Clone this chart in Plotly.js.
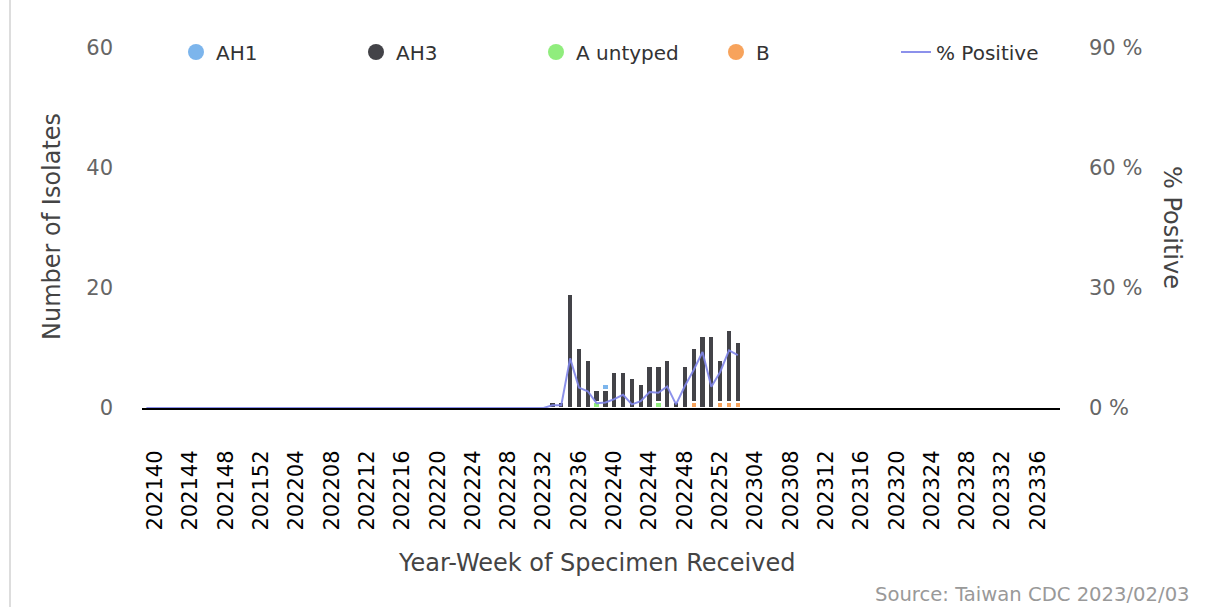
<!DOCTYPE html>
<html>
<head>
<meta charset="utf-8">
<script src="https://cdn.plot.ly/plotly-3.0.1.min.js"></script>
<style>html,body{margin:0;padding:0;background:#fff;}#chart{width:1214px;height:607px;}</style>
</head>
<body>
<div id="chart"></div>
<script>
// Categories: year-week of specimen received
var weeks = [
  "202139","202140","202141","202142","202143","202144","202145","202146","202147","202148","202149","202150","202151","202152",
  "202201","202202","202203","202204","202205","202206","202207","202208","202209","202210","202211","202212","202213",
  "202214","202215","202216","202217","202218","202219","202220","202221","202222","202223","202224","202225","202226",
  "202227","202228","202229","202230","202231","202232","202233","202234","202235","202236","202237","202238","202239",
  "202240","202241","202242","202243","202244","202245","202246","202247","202248","202249","202250","202251","202252",
  "202301","202302","202303","202304","202305","202306","202307","202308","202309","202310","202311","202312","202313",
  "202314","202315","202316","202317","202318","202319","202320","202321","202322","202323","202324","202325","202326",
  "202327","202328","202329","202330","202331","202332","202333","202334","202335","202336","202337","202338"
];
var tickLabels = ["202140","202144","202148","202152","202204","202208","202212","202216","202220","202224","202228",
  "202232","202236","202240","202244","202248","202252","202304","202308","202312","202316","202320","202324","202328",
  "202332","202336"];
var leftTicks = [0, 20, 40, 60];
var rightTicks = [0, 30, 60, 90];
var rightTickText = ["0 %", "30 %", "60 %", "90 %"];

// Weeks with isolates
var dataWeeks = ["202233","202234","202235","202236","202237","202238","202239","202240","202241","202242","202243",
  "202244","202245","202246","202247","202248","202249","202250","202251","202252","202301","202302"];
var AH1      = [null,null,null,null,null,null,1,null,null,null,null,null,null,null,null,null,null,null,null,null,null,null];
var AH3      = [1,1,19,10,8,2,3,6,6,5,4,7,6,8,1,7,9,12,12,7,12,10];
var Auntyped = [null,null,null,null,null,1,null,null,null,null,null,null,1,null,null,null,null,null,null,null,null,null];
var B        = [null,null,null,null,null,null,null,null,null,null,null,null,null,null,null,null,1,null,null,1,1,1];

// % Positive, 202139 .. 202302
var pctWeeks = weeks.slice(0, 68);
var pctPositive = [
  0,0,0,0,0,0,0,0,0,0,0,0,0,0,
  0,0,0,0,0,0,0,0,0,0,0,0,0,0,0,0,0,0,0,0,0,0,0,0,0,0,0,0,0,0,0,0,
  0.7,0.7,12.4,5.1,4.2,1.2,1.4,2.2,3.3,0.9,1.7,4.0,3.8,5.4,0.9,5.5,9.5,14.0,5.3,9.0,14.4,13.2
];

var colors = {AH1:"#7cb5ec", AH3:"#434348", Au:"#90ed7d", B:"#f7a35c", pct:"#8085e9"};
var FONT = "DejaVu Sans";
var barLine = {color:"#ffffff", width:1.2};

function barTrace(name, vals, color){
  return {type:"bar", name:name, x:dataWeeks, y:vals, marker:{color:color, line:barLine},
          showlegend:false, legendgroup:name, hoverinfo:"x+y+name"};
}
function legendTrace(name, color){
  return {type:"scatter", mode:"markers", name:name, x:[null], y:[null], legendgroup:name,
          marker:{color:color, size:16, symbol:"circle"}, hoverinfo:"skip"};
}

var data = [
  barTrace("B", B, colors.B),
  barTrace("A untyped", Auntyped, colors.Au),
  barTrace("AH3", AH3, colors.AH3),
  barTrace("AH1", AH1, colors.AH1),
  legendTrace("AH1", colors.AH1),
  legendTrace("AH3", colors.AH3),
  legendTrace("A untyped", colors.Au),
  legendTrace("B", colors.B),
  {type:"scatter", mode:"lines", name:"% Positive", x:pctWeeks, y:pctPositive, yaxis:"y2",
   line:{color:colors.pct, width:2}, opacity:0.9}
];

var W = 918, H = 360, L = 142, T = 48;
function px(x){ return (x - L) / W; }
function py(y){ return (T + H - y) / H; }

var layout = {
  width:1214, height:607,
  margin:{l:142, r:154, t:48, b:199, pad:0},
  paper_bgcolor:"#ffffff", plot_bgcolor:"#ffffff",
  font:{family:FONT, color:"#333333"},
  barmode:"stack", bargap:0.38,
  showlegend:true,
  legend:{orientation:"h", traceorder:"normal", x:px(176), xanchor:"left", y:py(52), yanchor:"middle",
          entrywidth:135, entrywidthmode:"pixels", font:{family:FONT, size:20, color:"#333333"},
          bgcolor:"rgba(0,0,0,0)", itemclick:false},
  xaxis:{type:"category", categoryorder:"array", categoryarray:weeks, range:[-0.5, 103.5],
         tickmode:"array", tickvals:tickLabels, ticktext:tickLabels, tickangle:-90,
         tickfont:{family:FONT, size:21, color:"#000000"}, ticks:"", ticklabelstandoff:32,
         showline:true, linecolor:"#000000", linewidth:2, showgrid:false, zeroline:false, fixedrange:true},
  yaxis:{range:[0,60], tickmode:"array", tickvals:leftTicks, tickfont:{family:FONT, size:21, color:"#666666"},
         showline:false, showgrid:false, zeroline:false, ticks:"", ticklabelstandoff:28, fixedrange:true},
  yaxis2:{range:[0,90], tickmode:"array", tickvals:rightTicks, ticktext:rightTickText, overlaying:"y", side:"right",
          tickfont:{family:FONT, size:21, color:"#666666"},
          showline:false, showgrid:false, zeroline:false, ticks:"", ticklabelstandoff:28, fixedrange:true},
  annotations:[
    {text:"Number of Isolates", xref:"paper", yref:"paper", x:px(52), y:py(227), textangle:-90,
     showarrow:false, xanchor:"center", yanchor:"middle", font:{family:FONT, size:24, color:"#444444"}},
    {text:"% Positive", xref:"paper", yref:"paper", x:px(1172), y:py(227), textangle:90,
     showarrow:false, xanchor:"center", yanchor:"middle", font:{family:FONT, size:24, color:"#444444"}},
    {text:"Year-Week of Specimen Received", xref:"paper", yref:"paper", x:px(596), y:py(563),
     showarrow:false, xanchor:"center", yanchor:"middle", font:{family:FONT, size:24, color:"#444444"}},
    {text:"Source: Taiwan CDC 2023/02/03", xref:"paper", yref:"paper", x:px(1192), y:py(594),
     showarrow:false, xanchor:"right", yanchor:"middle", font:{family:FONT, size:19.6, color:"#999999"}}
  ],
  shapes:[
    {type:"line", xref:"paper", yref:"paper", x0:px(10), x1:px(10), y0:py(0), y1:py(607),
     line:{color:"#dddddd", width:2}}
  ]
};

Plotly.newPlot("chart", data, layout, {displayModeBar:false, staticPlot:true});
</script>
</body>
</html>
